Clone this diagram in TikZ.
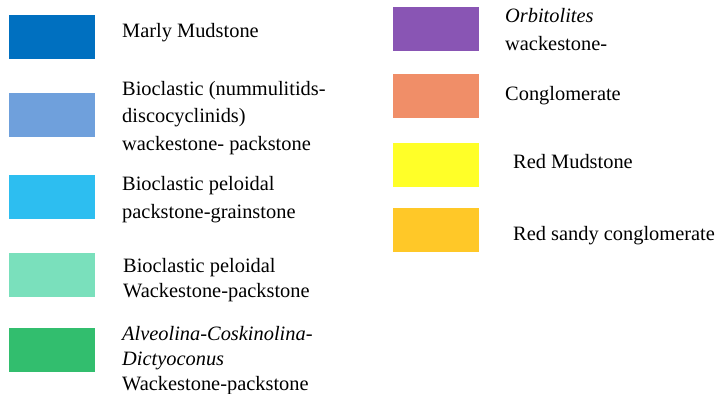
\documentclass[tikz,border=0pt]{standalone}
\usepackage{fontspec}
\setmainfont{Liberation Serif}
\usepackage{tikz}
\definecolor{marly}{RGB}{0,112,192}
\definecolor{nummu}{RGB}{111,160,220}
\definecolor{pelgrain}{RGB}{45,190,240}
\definecolor{pelwack}{RGB}{122,224,188}
\definecolor{alveo}{RGB}{50,190,110}
\definecolor{orbito}{RGB}{137,85,180}
\definecolor{congl}{RGB}{240,142,104}
\definecolor{redmud}{RGB}{255,255,40}
\definecolor{redsand}{RGB}{255,200,40}

\begin{document}
\begin{tikzpicture}[x=1pt,y=-1pt,
  swatch/.style={fill=#1,draw=none,minimum width=86pt,minimum height=44pt,anchor=north west,inner sep=0pt},
  lbl/.style={anchor=base west,align=left,inner sep=0pt,font=\fontsize{20.4}{27.2}\selectfont},
  tightlbl/.style={lbl,font=\fontsize{20.4}{25}\selectfont}]
\useasboundingbox (0,0) rectangle (721,394);
% left column (labels sit on the baseline of their last line)
\node[swatch=marly] (marly) at (9,15) {};
\node[swatch=nummu] (nummu) at (9,93) {};
\node[swatch=pelgrain] (pelgrain) at (9,175) {};
\node[swatch=pelwack] (pelwack) at (9,253) {};
\node[swatch=alveo] (alveo) at (9,328) {};
\node[lbl] (marlytxt) at (122,37) {Marly Mudstone};
\node[lbl] (nummutxt) at (122,150) {Bioclastic (nummulitids-\\discocyclinids)\\wackestone- packstone};
\node[lbl] (pelgraintxt) at (122,218) {Bioclastic peloidal\\packstone-grainstone};
\node[tightlbl] (pelwacktxt) at (123,297) {Bioclastic peloidal\\Wackestone-packstone};
\node[tightlbl] (alveotxt) at (122,390) {{\itshape Alveolina-Coskinolina-}\\{\itshape Dictyoconus}\\Wackestone-packstone};
% right column
\node[swatch=orbito] (orbito) at (393,7) {};
\node[swatch=congl] (congl) at (393,74) {};
\node[swatch=redmud] (redmud) at (393,143) {};
\node[swatch=redsand] (redsand) at (393,208) {};
\node[lbl] (orbitotxt) at (505,50) {{\itshape Orbitolites}\\wackestone-};
\node[lbl] (congltxt) at (505,100) {Conglomerate};
\node[lbl] (redmudtxt) at (513,168) {Red Mudstone};
\node[lbl] (redsandtxt) at (513,240) {Red sandy conglomerate};
\end{tikzpicture}
\end{document}
